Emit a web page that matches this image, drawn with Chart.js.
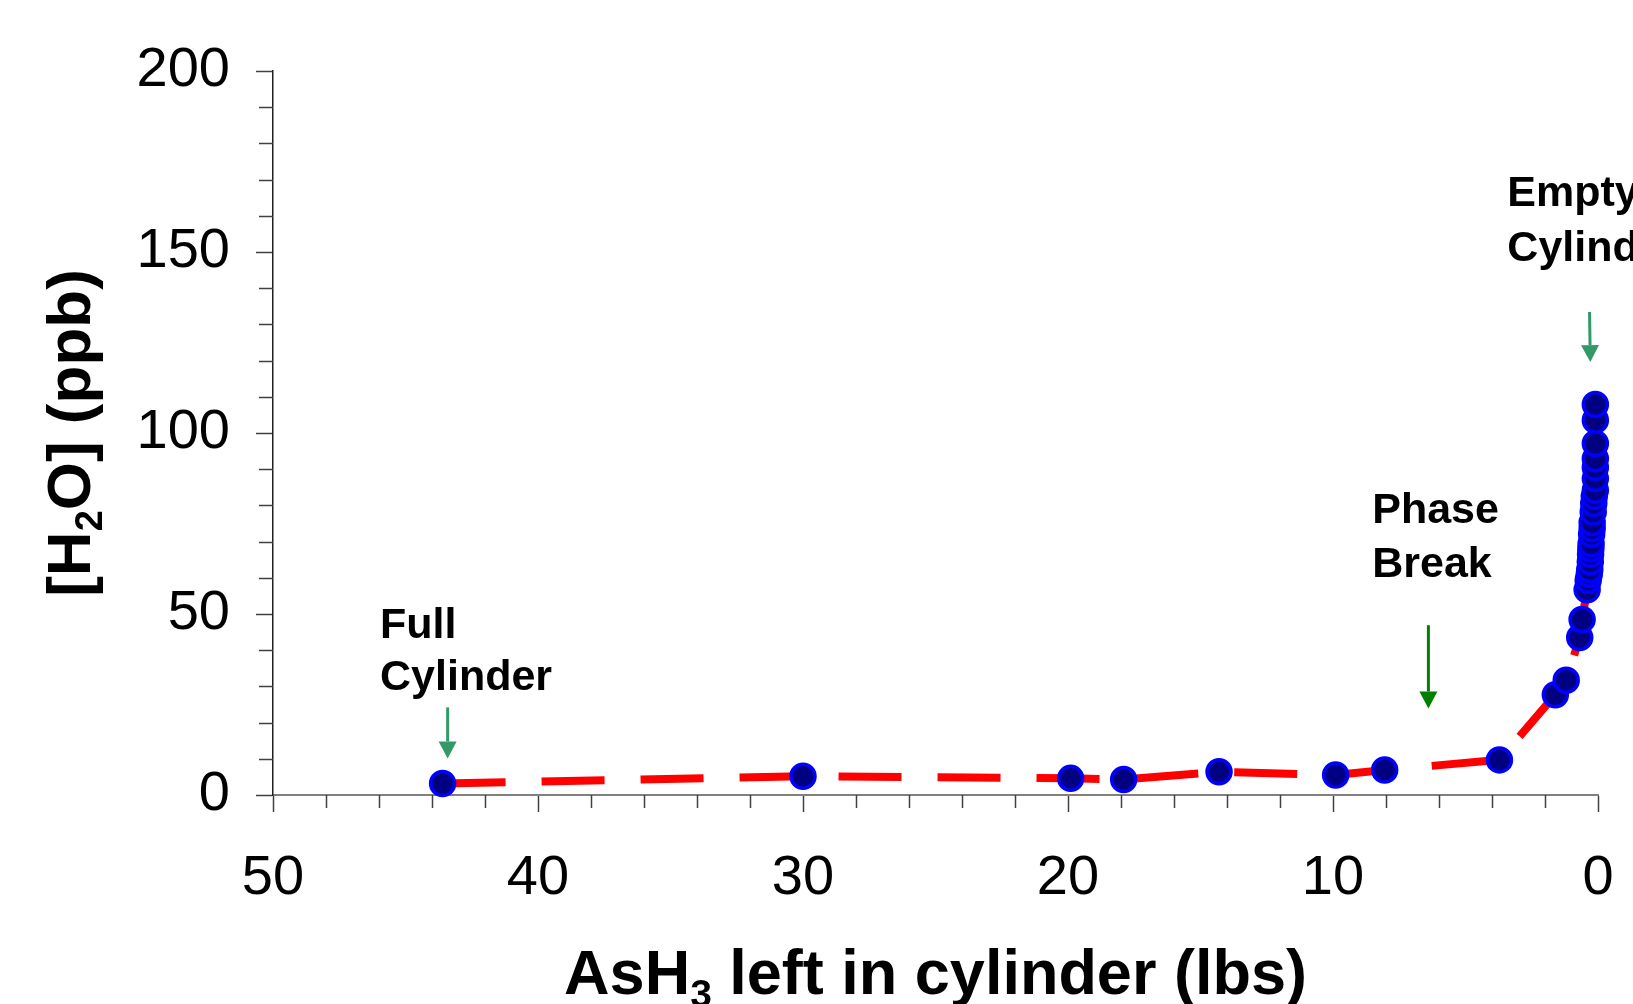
<!DOCTYPE html>
<html>
<head>
<meta charset="utf-8">
<script src="https://cdn.jsdelivr.net/npm/chart.js@4/dist/chart.umd.min.js"></script>
<style>
  html, body { margin: 0; padding: 0; background: #ffffff; }
  #wrap { width: 1633px; height: 1004px; position: relative; }
</style>
</head>
<body>
<div id="wrap"><canvas id="chart" width="1633" height="1004"></canvas></div>
<script>
// AsH3 remaining in the cylinder (lbs) and measured moisture (ppb)
const ash3Left = [43.6, 30.0, 19.9, 17.9, 14.3, 9.9, 8.05, 3.72, 1.61, 1.20,
  0.69, 0.60, 0.41, 0.37, 0.33, 0.31, 0.29, 0.28, 0.27, 0.26, 0.24, 0.22,
  0.22, 0.18, 0.16, 0.14, 0.10, 0.10, 0.10, 0.10, 0.10, 0.10, 0.10];
const h2oPpb = [3.2, 5.2, 4.6, 4.3, 6.4, 5.5, 6.9, 9.7, 27.7, 31.7,
  43.5, 48.5, 56.7, 59.3, 61.0, 62.3, 64.4, 66.5, 68.0, 69.4, 72.0, 73.6,
  75.3, 78.2, 80.5, 82.5, 84.2, 87.4, 90.5, 92.9, 97.1, 103.5, 107.9];

// Axis ranges and tick steps
const xRange = [0, 50];
const yRange = [0, 200];
const xMajorStep = 10, xMinorStep = 2;
const yMajorStep = 50, yMinorStep = 10;

// Callouts: text lines (left edge x, baseline y) and arrows (x top, y top, x tip, y tip), in data units
const calloutLines = [
  ["Full", 45.96, 43.3], ["Cylinder", 45.96, 28.9],
  ["Phase", 8.52, 75.1], ["Break", 8.52, 60.1],
  ["Empty", 3.42, 162.6], ["Cylinder", 3.42, 147.4]
];
const calloutArrows = [
  [43.41, 24.2, 43.41, 10.1, "#339966"],
  [6.40, 46.9, 6.40, 23.9, "#008000"],
  [0.32, 133.4, 0.29, 119.6, "#339966"]
];

const FONT = "'Liberation Sans', Arial, Helvetica, sans-serif";

const points = ash3Left.map((x, i) => ({ x: x, y: h2oPpb[i] }));

function drawRich(ctx, parts, size, x, y) {
  // parts: [text, isSub]; centred horizontally on x, baseline y
  let total = 0;
  parts.forEach(([t, sub]) => {
    ctx.font = "bold " + (sub ? Math.round(size * 0.62) : size) + "px " + FONT;
    total += ctx.measureText(t).width;
  });
  let cx = x - total / 2;
  ctx.textAlign = "left";
  ctx.textBaseline = "alphabetic";
  parts.forEach(([t, sub]) => {
    ctx.font = "bold " + (sub ? Math.round(size * 0.62) : size) + "px " + FONT;
    ctx.fillText(t, cx, y + (sub ? size * 0.2 : 0));
    cx += ctx.measureText(t).width;
  });
}

const decorations = {
  id: "decorations",
  afterDraw(chart) {
    const ctx = chart.ctx;
    const xs = chart.scales.x, ys = chart.scales.y;
    const area = chart.chartArea;
    ctx.save();

    // minor ticks
    ctx.strokeStyle = "#404040";
    ctx.lineWidth = 1.5;
    ctx.beginPath();
    for (let v = xRange[0]; v <= xRange[1]; v += xMinorStep) {
      if (v % xMajorStep === 0) continue;
      const px = Math.round(xs.getPixelForValue(v)) + 0.5;
      ctx.moveTo(px, area.bottom);
      ctx.lineTo(px, area.bottom + 13);
    }
    for (let v = yRange[0]; v <= yRange[1]; v += yMinorStep) {
      if (v % yMajorStep === 0) continue;
      const py = Math.round(ys.getPixelForValue(v)) + 0.5;
      ctx.moveTo(area.left, py);
      ctx.lineTo(area.left - 14, py);
    }
    ctx.stroke();

    // axis titles
    ctx.fillStyle = "#000000";
    drawRich(ctx, [["AsH", false], ["3", true], [" left in cylinder (lbs)", false]],
      63, (area.left + area.right) / 2, 994);
    ctx.save();
    ctx.translate(90, (area.top + area.bottom) / 2);
    ctx.rotate(-Math.PI / 2);
    drawRich(ctx, [["[H", false], ["2", true], ["O] (ppb)", false]], 62, 0, 0);
    ctx.restore();

    // callout text
    ctx.font = "bold 43px " + FONT;
    ctx.textAlign = "left";
    ctx.textBaseline = "alphabetic";
    calloutLines.forEach(([t, x, y]) => {
      ctx.fillText(t, xs.getPixelForValue(x), ys.getPixelForValue(y));
    });

    // callout arrows
    calloutArrows.forEach(([x0, y0, x1, y1, color]) => {
      const ax = xs.getPixelForValue(x0), ay = ys.getPixelForValue(y0);
      const bx = xs.getPixelForValue(x1), by = ys.getPixelForValue(y1);
      const ang = Math.atan2(by - ay, bx - ax);
      const headLen = 17, headHalf = 9;
      const hx = bx - headLen * Math.cos(ang), hy = by - headLen * Math.sin(ang);
      ctx.strokeStyle = color;
      ctx.fillStyle = color;
      ctx.lineWidth = 3;
      ctx.beginPath();
      ctx.moveTo(ax, ay);
      ctx.lineTo(hx, hy);
      ctx.stroke();
      ctx.beginPath();
      ctx.moveTo(bx, by);
      ctx.lineTo(hx + headHalf * Math.sin(ang), hy - headHalf * Math.cos(ang));
      ctx.lineTo(hx - headHalf * Math.sin(ang), hy + headHalf * Math.cos(ang));
      ctx.closePath();
      ctx.fill();
    });
    ctx.restore();
  }
};

new Chart(document.getElementById("chart"), {
  type: "scatter",
  data: {
    datasets: [{
      data: points,
      showLine: true,
      borderColor: "#ff0000",
      borderWidth: 8,
      borderDash: [63, 36],
      borderCapStyle: "butt",
      tension: 0,
      pointRadius: 12,
      pointHoverRadius: 12,
      pointBackgroundColor: "#000080",
      pointBorderColor: "#0000ff",
      pointBorderWidth: 3.5,
      clip: false
    }]
  },
  options: {
    responsive: false,
    animation: false,
    events: [],
    layout: { padding: { left: 0, top: 71, right: 35, bottom: 0 } },
    plugins: { legend: { display: false }, tooltip: { enabled: false } },
    scales: {
      x: {
        type: "linear",
        reverse: true,
        min: xRange[0],
        max: xRange[1],
        afterFit(s) { s.height = 209; s.paddingLeft = 0; s.paddingRight = 0; },
        border: { display: true, color: "#808080", width: 2 },
        grid: { drawOnChartArea: false, drawTicks: true, tickLength: 17, tickColor: "#404040", tickWidth: 1.5 },
        ticks: {
          stepSize: xMajorStep,
          padding: 33,
          color: "#000000",
          maxRotation: 0,
          font: { family: FONT, size: 56 }
        }
      },
      y: {
        type: "linear",
        min: yRange[0],
        max: yRange[1],
        afterFit(s) { s.width = 273; s.paddingTop = 0; s.paddingBottom = 0; },
        border: { display: true, color: "#202020", width: 1.5 },
        grid: { drawOnChartArea: false, drawTicks: true, tickLength: 17, tickColor: "#404040", tickWidth: 1.5 },
        ticks: {
          stepSize: yMajorStep,
          padding: 26,
          color: "#000000",
          font: { family: FONT, size: 56 }
        }
      }
    }
  },
  plugins: [decorations]
});
</script>
</body>
</html>
